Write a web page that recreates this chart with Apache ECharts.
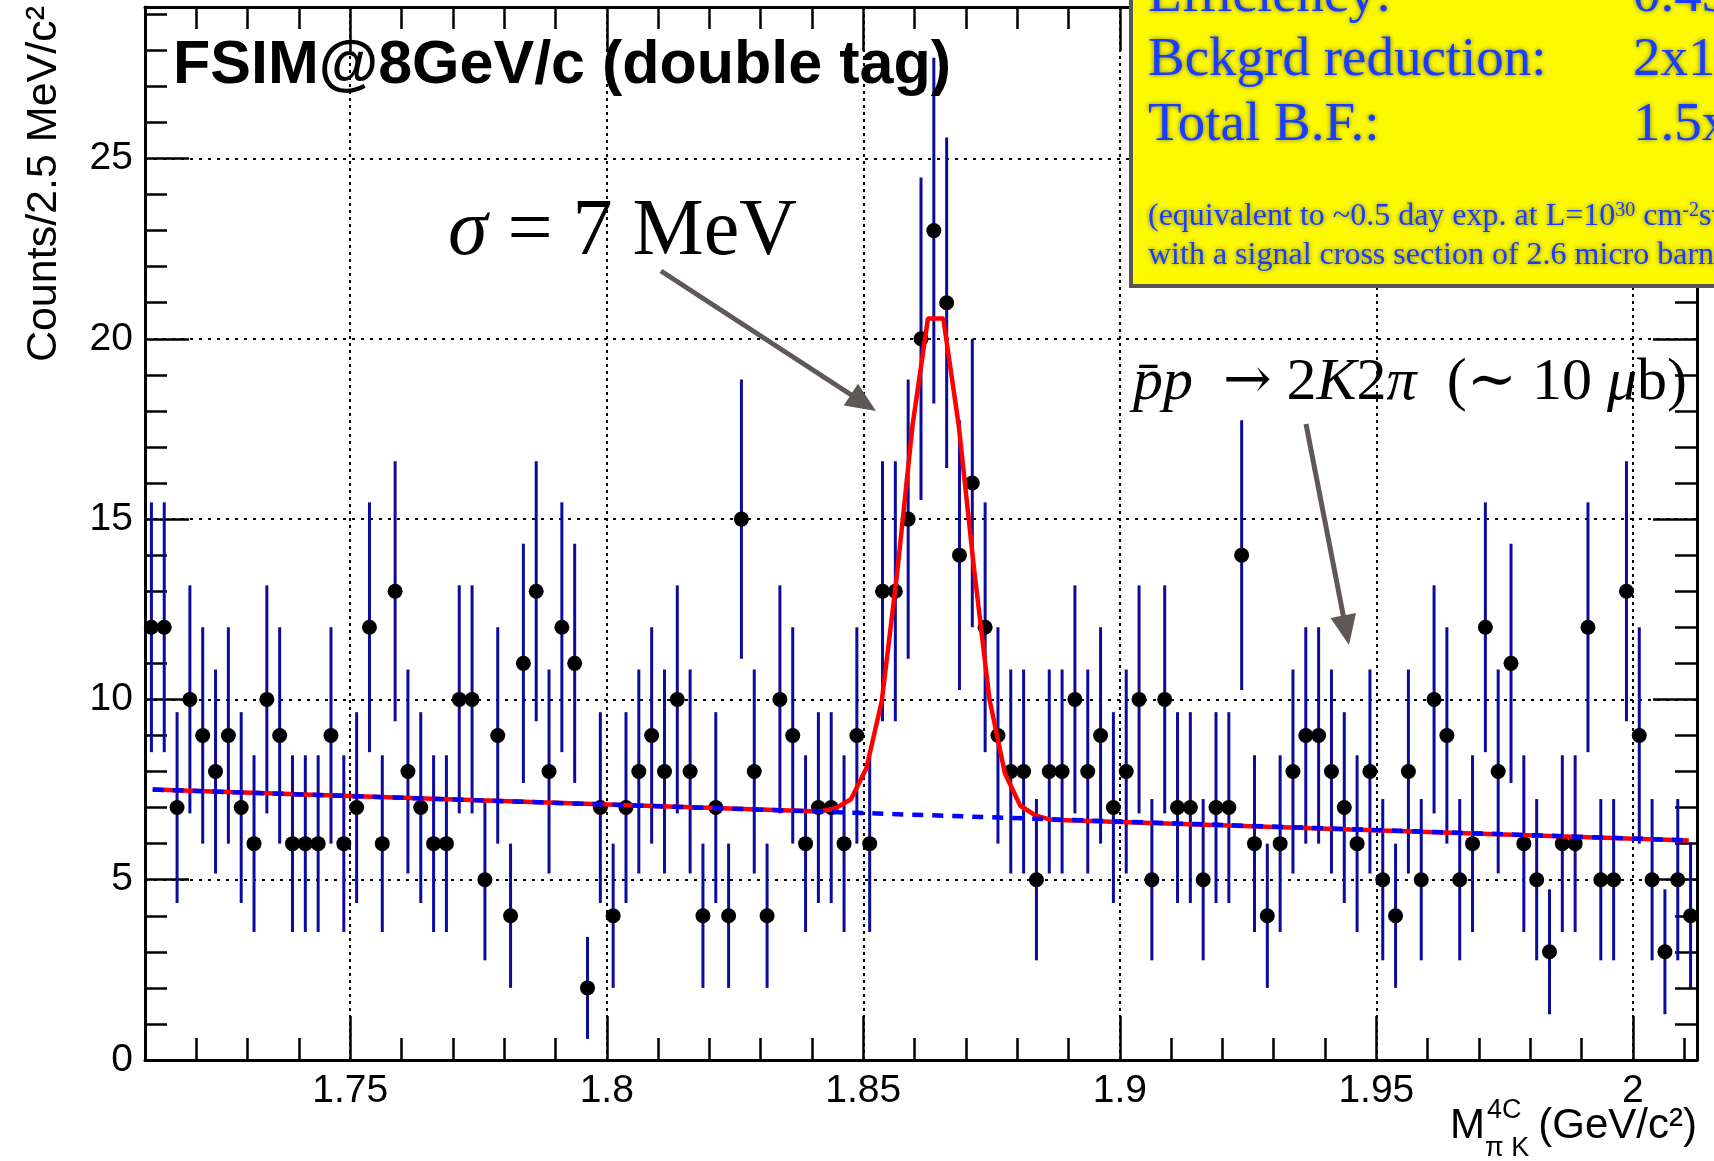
<!DOCTYPE html>
<html><head><meta charset="utf-8">
<script src="https://cdn.jsdelivr.net/npm/echarts@6/dist/echarts.min.js"></script>
<style>html,body{margin:0;padding:0;background:#fff;overflow:hidden}#c{width:1714px;height:1161px}</style>
</head><body><div id="c"></div>
<script>
// ---- histogram definition and data ----
const binLow = 1.71;
const binWidth = 0.0025;
const counts = [
  12,12,7,10,9,8,9,7,6,10,9,6,6,6,9,6,7,12,6,13,8,
  7,6,6,10,10,5,9,4,11,13,8,12,11,2,7,4,7,8,9,8,
  10,8,4,7,4,15,8,4,10,9,6,7,7,6,9,6,13,13,15,20,
  23,21,14,16,12,9,8,8,5,8,8,10,8,9,7,8,10,5,10,7,
  7,5,7,7,14,6,4,6,8,9,9,8,7,6,8,5,4,8,5,10,
  9,5,6,12,8,11,6,5,3,6,6,12,5,5,13,9,5,3,5,4
];
// background fit (blue dashed straight line)
const bgX = [1.7115, 2.0109];
const bgY = [7.50, 6.09];
// total fit (red polyline vertices)
const fitX = [1.7115, 1.8416, 1.8446, 1.8476, 1.8506, 1.8536, 1.8566, 1.8596, 1.8626, 1.8656, 1.8686, 1.8716, 1.8746, 1.8776, 1.8806, 1.8836, 1.8866, 2.0109];
const fitY = [7.50, 6.89, 6.98, 7.23, 8.09, 9.95, 13.5, 17.6, 20.56, 20.56, 17.6, 13.6, 10.0, 7.95, 7.05, 6.78, 6.66, 6.09];
const xMin = 1.71, xMax = 2.0125;
const yMin = 0, yMax = 29.2;

const points = counts.map((c, i) => [binLow + (i + 0.5) * binWidth, c]);
const fitData = fitX.map((x, i) => [x, fitY[i]]);
const bgData = bgX.map((x, i) => [x, bgY[i]]);

const SANS = "'Liberation Sans', Arial, Helvetica, sans-serif";
const SERIF = "'Liberation Serif', 'DejaVu Serif', 'Times New Roman', serif";
const ARROW = '#5e5856';
const BOXBLUE = '#1a3cff';

function arrow(x1, y1, x2, y2, headLen, headHalf) {
  const dx = x2 - x1, dy = y2 - y1, L = Math.hypot(dx, dy);
  const ux = dx / L, uy = dy / L;
  const bx = x2 - ux * headLen, by = y2 - uy * headLen;
  const px = -uy * headHalf, py = ux * headHalf;
  return [
    { type: 'line', z: 60, shape: { x1, y1, x2: bx + ux * 2, y2: by + uy * 2 }, style: { stroke: ARROW, lineWidth: 5 } },
    { type: 'polygon', z: 60, shape: { points: [[x2, y2], [bx + px, by + py], [bx - px, by - py]] }, style: { fill: ARROW } }
  ];
}

const tickCommon = { inside: true, length: 44, lineStyle: { color: '#000', width: 2.5 } };
const minorCommon = { show: true, splitNumber: 5, length: 22, lineStyle: { color: '#000', width: 2.5 } };
const lineCommon = { show: true, onZero: false, lineStyle: { color: '#000', width: 3 } };
const fmt = v => String(+(+v).toFixed(4));

const boxTextShadow = { textShadowColor: 'rgba(0,0,90,0.55)', textShadowBlur: 5 };

const option = {
  animation: false,
  backgroundColor: '#fff',
  grid: { left: 145, right: 17, top: 7, bottom: 101, containLabel: false },
  xAxis: [
    {
      type: 'value', position: 'bottom', min: xMin, max: xMax, splitNumber: 6,
      axisLine: lineCommon, axisTick: tickCommon, minorTick: minorCommon,
      splitLine: { show: true, lineStyle: { color: '#000', width: 2, type: [3, 4] } },
      axisLabel: { show: true, color: '#000', fontFamily: SANS, fontSize: 39, margin: 12, showMinLabel: false, showMaxLabel: false, formatter: fmt }
    },
    {
      type: 'value', position: 'top', min: xMin, max: xMax, splitNumber: 6,
      axisLine: lineCommon, axisTick: tickCommon, minorTick: minorCommon,
      splitLine: { show: false }, axisLabel: { show: false }
    }
  ],
  yAxis: [
    {
      type: 'value', position: 'left', min: yMin, max: yMax, interval: 5,
      axisLine: lineCommon, axisTick: tickCommon, minorTick: minorCommon,
      splitLine: { show: true, lineStyle: { color: '#000', width: 2, type: [3, 6] } },
      axisLabel: { show: true, color: '#000', fontFamily: SANS, fontSize: 39, margin: 12, showMaxLabel: false, formatter: fmt }
    },
    {
      type: 'value', position: 'right', min: yMin, max: yMax, interval: 5,
      axisLine: lineCommon, axisTick: tickCommon, minorTick: minorCommon,
      splitLine: { show: false }, axisLabel: { show: false }
    }
  ],
  series: [
    {
      type: 'custom', name: 'errors', xAxisIndex: 0, yAxisIndex: 0, z: 3,
      encode: { x: 0, y: 1 },
      data: points,
      renderItem: function (params, api) {
        const x = api.value(0), y = api.value(1);
        const e = Math.sqrt(y);
        const p1 = api.coord([x, y - e]);
        const p2 = api.coord([x, y + e]);
        return { type: 'line', shape: { x1: p1[0], y1: p1[1], x2: p2[0], y2: p2[1] }, style: { stroke: '#0b0b9e', lineWidth: 3 } };
      }
    },
    {
      type: 'scatter', name: 'counts', data: points, symbol: 'circle', symbolSize: 15, z: 4,
      itemStyle: { color: '#000', opacity: 1 }
    },
    {
      type: 'line', name: 'total fit', data: fitData, showSymbol: false, symbol: 'none', z: 5,
      lineStyle: { color: '#ff0000', width: 4.5 }
    },
    {
      type: 'line', name: 'background', data: bgData, showSymbol: false, symbol: 'none', z: 6,
      lineStyle: { color: '#0000ff', width: 4.5, type: [11, 9] }
    }
  ],
  graphic: [
    // title
    { type: 'text', z: 50, x: 173, y: 66, style: { text: 'FSIM@8GeV/c (double tag)', fill: '#000', font: 'bold 61px ' + SANS, align: 'left', verticalAlign: 'middle' } },
    // sigma annotation
    { type: 'text', z: 50, x: 448, y: 233, style: {
        text: '{i|σ} = 7 MeV', fill: '#000', font: '80px ' + SERIF, align: 'left', verticalAlign: 'middle',
        rich: { i: { font: 'italic 80px ' + SERIF, fill: '#000' } } } },
    // process annotation
    { type: 'text', z: 50, x: 1133, y: 383, style: {
        text: '{i|p\u0304p}  {a|→} 2{i|K}2{i|π}  (∼ 10 {i|μ}b)', fill: '#000', font: '60px ' + SERIF, align: 'left', verticalAlign: 'middle',
        rich: {
          i: { font: 'italic 60px ' + SERIF, fill: '#000' },
          a: { font: "58px 'DejaVu Serif', serif", fill: '#000' }
        } } },
    ...arrow(661, 271, 876, 411, 30, 13),
    ...arrow(1306, 424, 1349, 645, 30, 13),
    // yellow info box
    { type: 'rect', z: 100, shape: { x: 1129, y: -20, width: 620, height: 308 }, style: { fill: '#5a5555' } },
    { type: 'rect', z: 101, shape: { x: 1133, y: -20, width: 620, height: 304 }, style: { fill: '#fdfa00' } },
    { type: 'text', z: 102, x: 1148, y: -3, style: Object.assign({ text: 'Efficiency:', fill: BOXBLUE, font: '55px ' + SERIF, verticalAlign: 'middle' }, boxTextShadow) },
    { type: 'text', z: 102, x: 1633, y: -3, style: Object.assign({ text: '0.43 %', fill: BOXBLUE, font: '55px ' + SERIF, verticalAlign: 'middle' }, boxTextShadow) },
    { type: 'text', z: 102, x: 1148, y: 61, style: Object.assign({ text: 'Bckgrd reduction:', fill: BOXBLUE, font: '55px ' + SERIF, verticalAlign: 'middle' }, boxTextShadow) },
    { type: 'text', z: 102, x: 1633, y: 61, style: Object.assign({ text: '2x10⁻⁴', fill: BOXBLUE, font: '55px ' + SERIF, verticalAlign: 'middle' }, boxTextShadow) },
    { type: 'text', z: 102, x: 1148, y: 126, style: Object.assign({ text: 'Total B.F.:', fill: BOXBLUE, font: '55px ' + SERIF, verticalAlign: 'middle' }, boxTextShadow) },
    { type: 'text', z: 102, x: 1633, y: 126, style: Object.assign({ text: '1.5x10⁻³', fill: BOXBLUE, font: '55px ' + SERIF, verticalAlign: 'middle' }, boxTextShadow) },
    { type: 'text', z: 102, x: 1148, y: 217, style: Object.assign({
        text: '(equivalent to ~0.5 day exp. at L=10{s|30} cm{s|-2}s{s|-1}', fill: BOXBLUE, font: '32px ' + SERIF, verticalAlign: 'middle',
        rich: { s: { font: '20px ' + SERIF, fill: BOXBLUE, verticalAlign: 'top', lineHeight: 32 } } }, boxTextShadow) },
    { type: 'text', z: 102, x: 1148, y: 256, style: Object.assign({ text: 'with a signal cross section of 2.6 micro barn)', fill: BOXBLUE, font: '32px ' + SERIF, verticalAlign: 'middle' }, boxTextShadow) },
    // axis titles
    { type: 'text', z: 50, x: 44, y: 6, rotation: Math.PI / 2, style: { text: 'Counts/2.5 MeV/c²', fill: '#000', font: '43px ' + SANS, align: 'right', verticalAlign: 'middle' } },
    { type: 'text', z: 50, x: 1697, y: 1126, style: { text: '(GeV/c²)', fill: '#000', font: '42px ' + SANS, align: 'right', verticalAlign: 'middle' } },
    { type: 'text', z: 50, x: 1450, y: 1126, style: { text: 'M', fill: '#000', font: '42px ' + SANS, align: 'left', verticalAlign: 'middle' } },
    { type: 'text', z: 50, x: 1487, y: 1111, style: { text: '4C', fill: '#000', font: '27px ' + SANS, align: 'left', verticalAlign: 'middle' } },
    { type: 'text', z: 50, x: 1485, y: 1149, style: { text: 'π K', fill: '#000', font: '27px ' + SANS, align: 'left', verticalAlign: 'middle' } }
  ]
};

const chart = echarts.init(document.getElementById('c'), null, { renderer: 'canvas', width: 1714, height: 1161 });
chart.setOption(option);
</script>
</body></html>
